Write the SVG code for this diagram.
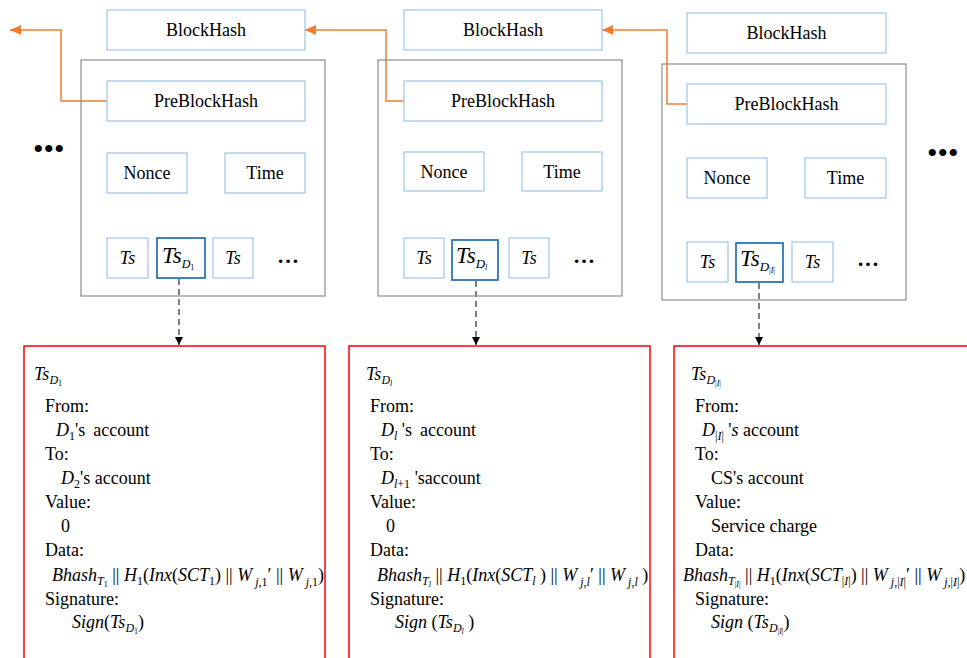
<svg xmlns="http://www.w3.org/2000/svg" width="967" height="658" viewBox="0 0 967 658">
  <defs>
    <style>
      text { font-family: "Liberation Serif", "Times New Roman", serif; font-size: 18px; fill: #000; }
      .c { text-anchor: middle; }
      .i { font-style: italic; }
      .s { font-size: 12px; }
      .ss { font-size: 8px; }
      .field { fill: #fff; stroke: #9dc3e6; stroke-width: 1.2; }
      .sel { fill: #fff; stroke: #2e75b6; stroke-width: 1.8; }
      .block { fill: none; stroke: #8c8c8c; stroke-width: 1.2; }
      .tx { fill: #fff; stroke: #ff0000; stroke-width: 1.5; }
      .link { fill: none; stroke: #ed7d31; stroke-width: 1.5; }
      .ref { fill: none; stroke: #000; stroke-width: 1; stroke-dasharray: 6 4; }
      .dots { font-size: 30px; }
      .more { font-size: 22px; font-weight: bold; }
    </style>
    <marker id="orangeHead" markerUnits="userSpaceOnUse" markerWidth="12" markerHeight="12" refX="11" refY="6" orient="auto">
      <path d="M0,1 L11,6 L0,11 Z" fill="#ed7d31"/>
    </marker>
    <marker id="blackHead" markerUnits="userSpaceOnUse" markerWidth="8" markerHeight="8" refX="8" refY="4" orient="auto">
      <path d="M0,0 L8,4 L0,8 Z" fill="#000"/>
    </marker>
  </defs>

  <!-- chain links and transaction references -->
  <g id="connectors">
    <path class="link" d="M107,101 H61 V30 H10" marker-end="url(#orangeHead)"/>
    <path class="link" d="M404,101 H386 V30 H305" marker-end="url(#orangeHead)"/>
    <path class="link" d="M687,104 H667 V30 H602" marker-end="url(#orangeHead)"/>
    <path class="ref" d="M179,279 V345" marker-end="url(#blackHead)"/>
    <path class="ref" d="M476,281 V345" marker-end="url(#blackHead)"/>
    <path class="ref" d="M759,283 V345" marker-end="url(#blackHead)"/>
  </g>

  <!-- continuation marks -->
  <g id="more-left"><text x="33" y="159" class="dots">•••</text></g>
  <g id="more-right"><text x="927" y="163" class="dots">•••</text></g>

  <!-- block 1 -->
  <g id="block1">
    <rect class="field" x="107" y="10" width="198" height="40"/>
    <text class="c" x="206" y="36">BlockHash</text>
    <rect class="block" x="81" y="60" width="244" height="236"/>
    <rect class="field" x="107" y="81" width="198" height="40"/>
    <text class="c" x="206" y="107">PreBlockHash</text>
    <rect class="field" x="107" y="153" width="80" height="40"/>
    <text class="c" x="147" y="179">Nonce</text>
    <rect class="field" x="225" y="153" width="80" height="40"/>
    <text class="c" x="265" y="179">Time</text>
    <rect class="field" x="107" y="238" width="41" height="40"/>
    <text class="c i" x="127.5" y="264">Ts</text>
    <rect class="sel" x="157" y="238" width="48" height="40"/>
    <text x="162" y="263"><tspan class="i" font-size="23">Ts</tspan><tspan class="i s" font-size="13" dy="5">D</tspan><tspan class="ss" dy="2">1</tspan></text>
    <rect class="field" x="213" y="238" width="40" height="40"/>
    <text class="c i" x="233" y="264">Ts</text>
    <text class="more" x="277" y="263">…</text>
  </g>

  <!-- block 2 -->
  <g id="block2">
    <rect class="field" x="404" y="10" width="198" height="40"/>
    <text class="c" x="503" y="36">BlockHash</text>
    <rect class="block" x="378" y="60" width="244" height="236"/>
    <rect class="field" x="404" y="81" width="198" height="40"/>
    <text class="c" x="503" y="107">PreBlockHash</text>
    <rect class="field" x="404" y="152" width="80" height="39"/>
    <text class="c" x="444" y="178">Nonce</text>
    <rect class="field" x="522" y="152" width="80" height="39"/>
    <text class="c" x="562" y="178">Time</text>
    <rect class="field" x="404" y="238" width="40" height="40"/>
    <text class="c i" x="424" y="264">Ts</text>
    <rect class="sel" x="452" y="240" width="46" height="40"/>
    <text x="456" y="263"><tspan class="i" font-size="23">Ts</tspan><tspan class="i" font-size="13" dy="5">D</tspan><tspan class="i ss" dy="2">l</tspan></text>
    <rect class="field" x="509" y="238" width="40" height="40"/>
    <text class="c i" x="529" y="264">Ts</text>
    <text class="more" x="573" y="263">…</text>
  </g>

  <!-- block 3 -->
  <g id="block3">
    <rect class="field" x="687" y="13" width="199" height="40"/>
    <text class="c" x="786.5" y="39">BlockHash</text>
    <rect class="block" x="662" y="64" width="244" height="236"/>
    <rect class="field" x="687" y="84" width="199" height="40"/>
    <text class="c" x="786.5" y="110">PreBlockHash</text>
    <rect class="field" x="687" y="158" width="80" height="40"/>
    <text class="c" x="727" y="184">Nonce</text>
    <rect class="field" x="805" y="158" width="81" height="40"/>
    <text class="c" x="845.5" y="184">Time</text>
    <rect class="field" x="687" y="242" width="41" height="40"/>
    <text class="c i" x="707.5" y="268">Ts</text>
    <rect class="sel" x="736" y="243" width="47" height="39"/>
    <text x="740" y="266"><tspan class="i" font-size="23">Ts</tspan><tspan class="i" font-size="13" dy="5">D</tspan><tspan class="ss" dy="2">|</tspan><tspan class="i ss">I</tspan><tspan class="ss">|</tspan></text>
    <rect class="field" x="792" y="242" width="41" height="40"/>
    <text class="c i" x="812.5" y="268">Ts</text>
    <text class="more" x="857" y="266">…</text>
  </g>

  <!-- transaction 1 details -->
  <g id="tx1">
    <rect class="tx" x="24" y="346" width="301" height="320"/>
    <text x="34" y="380"><tspan class="i">Ts</tspan><tspan class="i s" dy="4">D</tspan><tspan class="ss" dy="2">1</tspan></text>
    <text x="45" y="412">From:</text>
    <text x="56" y="436"><tspan class="i">D</tspan><tspan class="s" dy="4">1</tspan><tspan dy="-4">'s</tspan><tspan dx="8">account</tspan></text>
    <text x="45" y="460">To:</text>
    <text x="61" y="484"><tspan class="i">D</tspan><tspan class="s" dy="4">2</tspan><tspan dy="-4">'s account</tspan></text>
    <text x="45" y="508">Value:</text>
    <text x="61" y="532">0</text>
    <text x="45" y="556">Data:</text>
    <text x="52" y="581"><tspan class="i">Bhash</tspan><tspan class="i s" dy="4">T</tspan><tspan class="ss" dy="2">1</tspan><tspan dy="-6"> || </tspan><tspan class="i">H</tspan><tspan class="s" dy="4">1</tspan><tspan dy="-4">(</tspan><tspan class="i">Inx</tspan><tspan>(</tspan><tspan class="i">SCT</tspan><tspan class="s" dy="4">1</tspan><tspan dy="-4">) || </tspan><tspan class="i">W</tspan><tspan class="i s" dy="5"> j</tspan><tspan class="s">,1</tspan><tspan dy="-5">′ || </tspan><tspan class="i">W</tspan><tspan class="i s" dy="5"> j</tspan><tspan class="s">,1</tspan><tspan dy="-5">)</tspan></text>
    <text x="45" y="605">Signature:</text>
    <text x="72" y="628"><tspan class="i">Sign</tspan><tspan>(</tspan><tspan class="i">Ts</tspan><tspan class="i s" dy="4">D</tspan><tspan class="ss" dy="2">1</tspan><tspan dy="-6">)</tspan></text>
  </g>

  <!-- transaction l details -->
  <g id="tx2">
    <rect class="tx" x="349" y="346" width="301" height="320"/>
    <text x="366" y="380"><tspan class="i">Ts</tspan><tspan class="i s" dy="4">D</tspan><tspan class="i ss" dy="2">l</tspan></text>
    <text x="370" y="412">From:</text>
    <text x="381" y="436"><tspan class="i">D</tspan><tspan class="i s" dy="4">l</tspan><tspan dy="-4"> 's</tspan><tspan dx="8">account</tspan></text>
    <text x="370" y="460">To:</text>
    <text x="381" y="484"><tspan class="i">D</tspan><tspan class="s" dy="4"><tspan class="i">l</tspan>+1</tspan><tspan dy="-4"> 'saccount</tspan></text>
    <text x="370" y="508">Value:</text>
    <text x="386" y="532">0</text>
    <text x="370" y="556">Data:</text>
    <text x="377" y="581"><tspan class="i">Bhash</tspan><tspan class="i s" dy="4">T</tspan><tspan class="i ss" dy="2">l</tspan><tspan dy="-6"> || </tspan><tspan class="i">H</tspan><tspan class="s" dy="4">1</tspan><tspan dy="-4">(</tspan><tspan class="i">Inx</tspan><tspan>(</tspan><tspan class="i">SCT</tspan><tspan class="i s" dy="4">l</tspan><tspan dy="-4"> ) || </tspan><tspan class="i">W</tspan><tspan class="i s" dy="5"> j</tspan><tspan class="s">,</tspan><tspan class="i s">l</tspan><tspan dy="-5">′ || </tspan><tspan class="i">W</tspan><tspan class="i s" dy="5"> j</tspan><tspan class="s">,</tspan><tspan class="i s">l</tspan><tspan dy="-5"> )</tspan></text>
    <text x="370" y="605">Signature:</text>
    <text x="395" y="628"><tspan class="i">Sign</tspan><tspan> (</tspan><tspan class="i">Ts</tspan><tspan class="i s" dy="4">D</tspan><tspan class="i ss" dy="2">l</tspan><tspan dy="-6"> )</tspan></text>
  </g>

  <!-- final transaction details -->
  <g id="tx3">
    <rect class="tx" x="674" y="346" width="320" height="320"/>
    <text x="691" y="380"><tspan class="i">Ts</tspan><tspan class="i s" dy="4">D</tspan><tspan class="ss" dy="2">|</tspan><tspan class="i ss">I</tspan><tspan class="ss">|</tspan></text>
    <text x="695" y="412">From:</text>
    <text x="702" y="436"><tspan class="i">D</tspan><tspan class="s" dy="4">|</tspan><tspan class="i s">I</tspan><tspan class="s">|</tspan><tspan dy="-4"> '</tspan><tspan class="i">s</tspan><tspan> account</tspan></text>
    <text x="695" y="460">To:</text>
    <text x="711" y="484">CS's account</text>
    <text x="695" y="508">Value:</text>
    <text x="711" y="532">Service charge</text>
    <text x="695" y="556">Data:</text>
    <text x="683" y="581"><tspan class="i">Bhash</tspan><tspan class="i s" dy="4">T</tspan><tspan class="ss" dy="2">|</tspan><tspan class="i ss">I</tspan><tspan class="ss">|</tspan><tspan dy="-6"> || </tspan><tspan class="i">H</tspan><tspan class="s" dy="4">1</tspan><tspan dy="-4">(</tspan><tspan class="i">Inx</tspan><tspan>(</tspan><tspan class="i">SCT</tspan><tspan class="s" dy="4">|</tspan><tspan class="i s">I</tspan><tspan class="s">|</tspan><tspan dy="-4">) || </tspan><tspan class="i">W</tspan><tspan class="i s" dy="5"> j</tspan><tspan class="s">,|</tspan><tspan class="i s">I</tspan><tspan class="s">|</tspan><tspan dy="-5">′ || </tspan><tspan class="i">W</tspan><tspan class="i s" dy="5"> j</tspan><tspan class="s">,|</tspan><tspan class="i s">I</tspan><tspan class="s">|</tspan><tspan dy="-5">)</tspan></text>
    <text x="695" y="605">Signature:</text>
    <text x="711" y="628"><tspan class="i">Sign</tspan><tspan> (</tspan><tspan class="i">Ts</tspan><tspan class="i s" dy="4">D</tspan><tspan class="ss" dy="2">|</tspan><tspan class="i ss">I</tspan><tspan class="ss">|</tspan><tspan dy="-6">)</tspan></text>
  </g>
</svg>
